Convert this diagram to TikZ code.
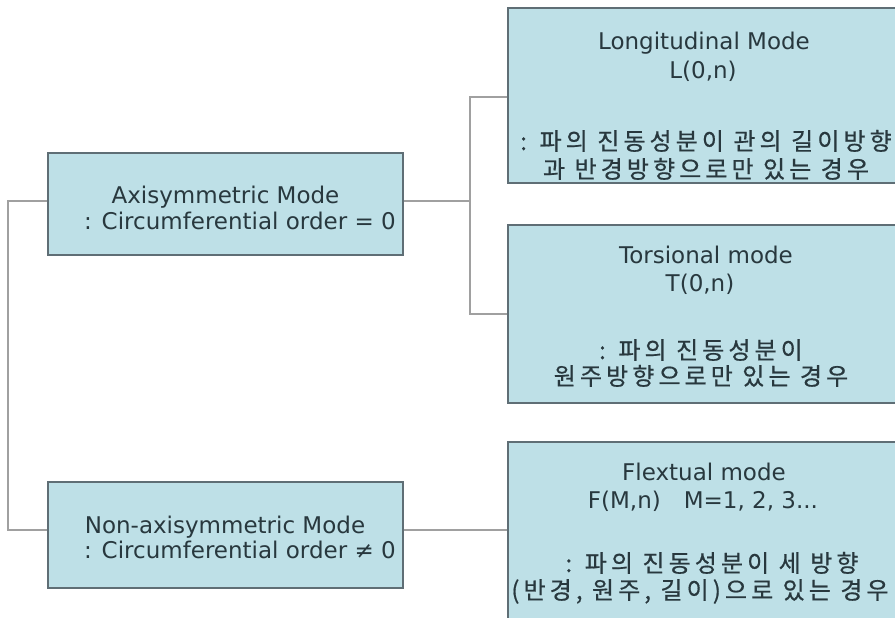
\documentclass[tikz,border=0pt]{standalone}
\usepackage{fontspec}
\setmainfont{DejaVu Sans}
\newfontfamily\kr[LetterSpace=17,FakeBold=0.6]{Noto Sans CJK KR}
\definecolor{boxfill}{RGB}{190,224,231}
\definecolor{boxline}{RGB}{95,110,117}
\definecolor{connc}{RGB}{160,160,160}
\definecolor{txt}{RGB}{40,56,62}
\begin{document}
\begin{tikzpicture}[x=1pt,y=-1pt,
  modebox/.style={draw=boxline, fill=boxfill, line width=1.5pt, rectangle, inner sep=0pt},
  conn/.style={draw=connc, line width=2pt},
  lat/.style={anchor=base, text=txt, font=\fontsize{23}{27}\selectfont, inner sep=0pt},
  kor/.style={anchor=base, text=txt, font=\kr\fontsize{24}{27}\selectfont, inner sep=0pt}]
\clip (0,0) rectangle (895,618);
\fill[white] (0,0) rectangle (895,618);
% boxes
\node[modebox, minimum width=355pt, minimum height=102pt] (axi) at (225.5,204) {};
\node[modebox, minimum width=355pt, minimum height=106pt] (non) at (225.5,535) {};
\node[modebox, minimum width=392pt, minimum height=175pt] (long) at (704,95.5) {};
\node[modebox, minimum width=392pt, minimum height=178pt] (tors) at (704,314) {};
\node[modebox, minimum width=392pt, minimum height=178pt] (flex) at (704,531) {};
% connectors
\coordinate (jl) at (8,300);
\coordinate (jr) at (470,201);
\draw[conn] ([yshift=3pt]axi.west) -| (jl) |- ([yshift=5pt]non.west);
\draw[conn] ([yshift=3pt]axi.east) -- (jr);
\draw[conn] ([yshift=-2pt]long.west) -| (jr) |- (tors.west);
\draw[conn] ([yshift=5pt]non.east) -- ([yshift=5pt]non.east -| flex.west);
% texts
\node[lat] (axiA) at (225.5,203) {Axisymmetric Mode};
\node[lat] (axiB) at (240,229) {: Circumferential order = 0};
\node[lat] (nonA) at (225,533) {Non-axisymmetric Mode};
\node[lat] (nonB) at (240,558) {: Circumferential order ≠ 0};
\node[lat] (longA) at (704,50) {Longitudinal Mode};
\node[lat] (longB) at (703,78) {L(0,n)};
\node[kor] (longC) at (706,150) {: 파의 진동성분이 관의 길이방향};
\node[kor] (longD) at (706,178) {과 반경방향으로만 있는 경우};
\node[lat] (torsA) at (706,263) {Torsional mode};
\node[lat] (torsB) at (700,291) {T(0,n)};
\node[kor] (torsC) at (701,359) {: 파의 진동성분이};
\node[kor] (torsD) at (701,385) {원주방향으로만 있는 경우};
\node[lat] (flexA) at (704,480) {Flextual mode};
\node[lat] (flexB) at (703,508) {F(M,n)\quad M=1, 2, 3...};
\node[kor] (flexC) at (712,572) {: 파의 진동성분이 세 방향};
\node[kor] (flexD) at (700,599) {(반경, 원주, 길이)으로 있는 경우};
\end{tikzpicture}
\end{document}
